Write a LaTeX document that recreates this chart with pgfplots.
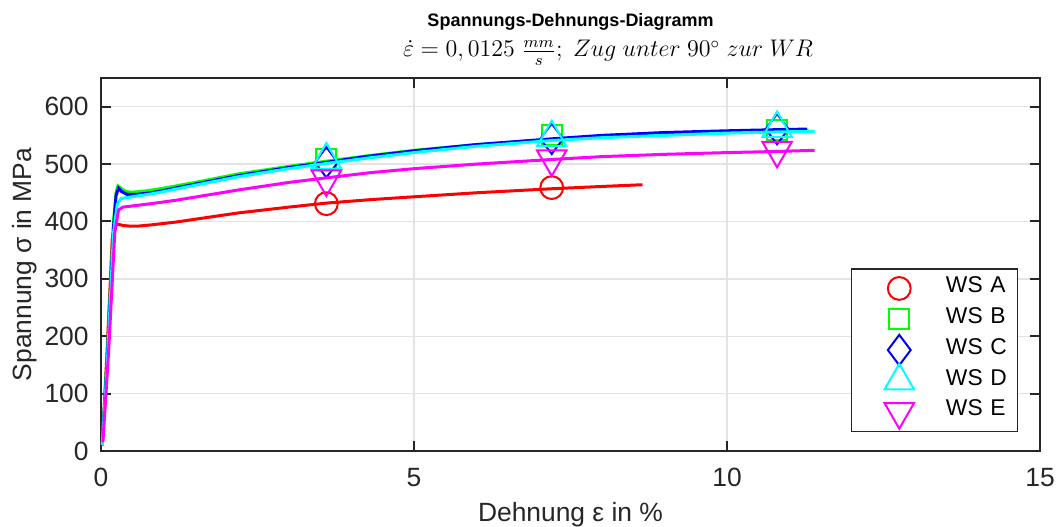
\documentclass[border=0pt]{standalone}
\usepackage[no-math]{fontspec}
\setmainfont{Liberation Sans}
\usepackage{pgfplots}
\pgfplotsset{compat=1.18}
\definecolor{axgray}{rgb}{0.15,0.15,0.15}
\definecolor{cR}{rgb}{1,0,0}
\definecolor{cG}{rgb}{0,1,0}
\definecolor{cB}{rgb}{0,0,1}
\definecolor{cC}{rgb}{0,1,1}
\definecolor{cM}{rgb}{1,0,1}
\begin{document}
\begin{tikzpicture}
\begin{axis}[
  name=ax,
  scale only axis,
  width=469.5pt, height=186.5pt,
  xmin=0, xmax=15, ymin=0, ymax=650,
  xtick={0,5,10,15}, ytick={0,100,...,600},
  tick align=inside, major tick length=5pt,
  axis line style={axgray, line width=1pt},
  tick style={axgray, line width=1pt},
  grid=major, major grid style={gray!22, line width=0.7pt},
  clip mode=individual,
  ticklabel style={font=\fontsize{13.2}{15}\selectfont, text=axgray, inner sep=0pt},
  xticklabel style={anchor=base, yshift=-18pt},
  yticklabel style={anchor=east, xshift=-6pt},
  /pgf/number format/assume math mode=true,
  xlabel={Dehnung ε in \%}, ylabel={Spannung σ in MPa},
  label style={font=\fontsize{13.2}{15}\selectfont, text=axgray},
  xlabel style={at={(axis description cs:0.5,-0.1903)}, anchor=base, inner sep=0pt},
  ylabel style={at={(axis description cs:-0.0745,0.5)}, anchor=base, inner sep=0pt},
  legend style={at={(0.9766,0.0509)}, anchor=south east, draw=axgray, line width=0.75pt,
    inner xsep=0pt, inner ysep=2.1pt, row sep=0pt, column sep=0pt,
    font=\fontsize{11.4}{13}\selectfont,
    nodes={inner sep=0pt, text height=9.8pt, text depth=5.6pt, text width=35.65pt, align=left, anchor=west}},
  legend image code/.code={\path[draw=none,fill=none] (-24pt,-7.7pt) rectangle (23.35pt,7.7pt);
    \begin{pgfinterruptboundingbox}\draw[#1] plot coordinates {(0pt,0pt)};\end{pgfinterruptboundingbox}},
]
% WS A
\addplot[cR, line width=1.5pt, forget plot] coordinates {
(0.02,10) (0.1,180) (0.18,370) (0.22,394) (0.28,395) (0.35,393) (0.45,392) (0.6,392) (0.8,394) (1.2,399) (2.2,415) (3,425) (3.6,432) (4.3,438) (5,443) (6,450) (7.2,457) (8,461) (8.65,464)};
\addplot[only marks, cR, mark=o, mark size=5.7pt, line width=1pt] coordinates {(3.6,431) (7.2,459)};
\addlegendentry{WS A}
% WS B
\addplot[cG, line width=1.5pt, forget plot] coordinates {
(0.02,12) (0.1,170) (0.2,400) (0.24,450) (0.27,462) (0.32,458) (0.4,452) (0.5,451) (0.7,453) (1.0,458) (1.5,468) (2.2,483) (3,496) (3.6,505) (4.3,515) (5,524) (6,534) (7.2,543) (8,548) (9,552) (10,555) (10.8,557) (11.3,559)};
\addplot[only marks, cG, mark=square, mark size=5pt, line width=1pt] coordinates {(3.6,509) (7.2,550) (10.8,559)};
\addlegendentry{WS B}
% WS C
\addplot[cB, line width=1.5pt, forget plot] coordinates {
(0.02,10) (0.1,160) (0.2,390) (0.24,445) (0.28,458) (0.33,452) (0.42,447) (0.55,447) (0.8,450) (1.0,454) (1.5,465) (2.2,480) (3,494) (3.6,503) (4.3,514) (5,523) (6,534) (7.2,544) (8,550) (9,555) (10,558) (10.8,560) (11.28,561)};
\addplot[only marks, cB, mark=diamond, mark size=7.6pt, line width=1pt] coordinates {(3.6,503) (7.2,544) (10.8,561)};
\addlegendentry{WS C}
% WS D
\addplot[cC, line width=1.5pt, forget plot] coordinates {
(0.02,10) (0.1,150) (0.2,380) (0.26,430) (0.32,440) (0.5,443) (0.8,448) (1.0,452) (1.5,463) (2.2,478) (3,492) (3.6,501) (4.3,511) (5,520) (6,531) (7.2,541) (8,546) (9,550) (10,554) (10.8,556) (11.4,557)};
\addplot[only marks, cC, mark=triangle, mark size=8.5pt, line width=1pt] coordinates {(3.6,507) (7.2,546) (10.8,562)};
\addlegendentry{WS D}
% WS E
\addplot[cM, line width=1.5pt, forget plot] coordinates {
(0.03,15) (0.12,170) (0.22,380) (0.28,420) (0.35,425) (0.5,427) (0.8,431) (1.2,437) (2.2,455) (3,468) (3.6,476) (4.3,485) (5,492) (6,500) (7.2,508) (8,513) (9,517) (10,520) (10.8,522) (11.4,524)};
\addplot[only marks, cM, mark=triangle, mark options={rotate=180}, mark size=8.5pt, line width=1pt] coordinates {(3.6,474) (7.2,509) (10.8,524)};
\addlegendentry{WS E}
\node[anchor=base, font=\bfseries\fontsize{9}{11}\selectfont] at (axis description cs:0.5,1.137) {Spannungs-Dehnungs-Diagramm};
\node[anchor=base, font=\fontsize{11.5}{13}\selectfont] at (axis description cs:0.54,1.0563) {$\dot{\varepsilon}=0,0125\ \frac{mm}{s};\ Zug\ unter\ 90^\circ\ zur\ WR$};
\end{axis}
\pgfresetboundingbox
\path[use as bounding box] ([xshift=-50.5pt,yshift=-38pt]ax.south west) rectangle ([xshift=8.5pt,yshift=39pt]ax.north east);
\end{tikzpicture}
\end{document}
